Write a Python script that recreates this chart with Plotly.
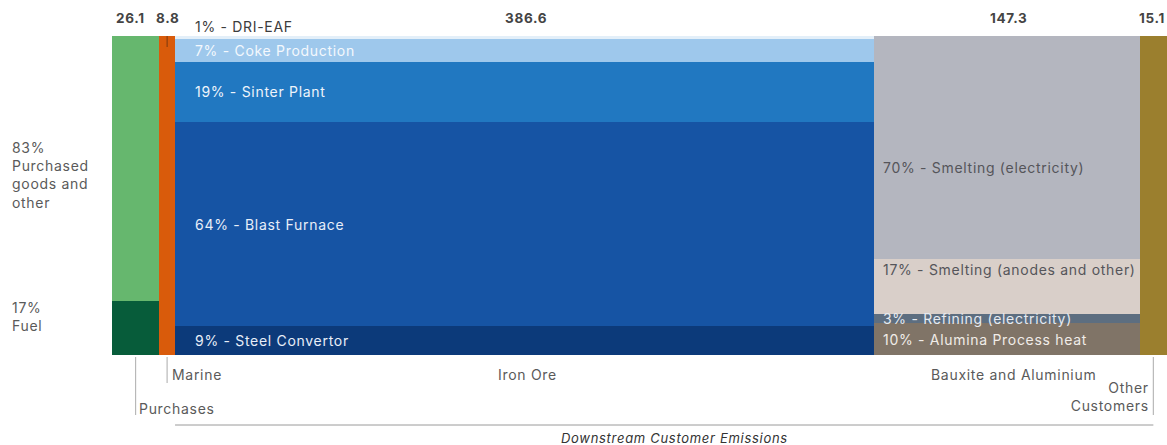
import plotly.graph_objects as go

# ---- data ----
columns = ["Purchases", "Marine", "Iron Ore", "Bauxite and Aluminium", "Other Customers"]
column_totals = [26.1, 8.8, 386.6, 147.3, 15.1]

purchases_segments = ["Fuel", "Purchased goods and other"]
purchases_shares = [17, 83]

marine_segments = ["Marine"]
marine_shares = [100]

iron_segments = ["Steel Convertor", "Blast Furnace", "Sinter Plant", "Coke Production", "DRI-EAF"]
iron_shares = [9, 64, 19, 7, 1]

bauxite_segments = ["Alumina Process heat", "Refining (electricity)", "Smelting (anodes and other)", "Smelting (electricity)"]
bauxite_shares = [10, 3, 17, 70]

other_segments = ["Other Customers"]
other_shares = [100]

# ---- styles ----
colors = {
    "Fuel": "#075c3a", "Purchased goods and other": "#66b76e",
    "Marine": "#d95b0b",
    "Steel Convertor": "#0c3a7a", "Blast Furnace": "#1654a4", "Sinter Plant": "#2178c1",
    "Coke Production": "#9ec8ec", "DRI-EAF": "#e3eff9",
    "Alumina Process heat": "#807467", "Refining (electricity)": "#5d6e80",
    "Smelting (anodes and other)": "#d9cfc9", "Smelting (electricity)": "#b4b6bf",
    "Other Customers": "#9b7f2e",
}
FONT = "Inter, Roboto, 'DejaVu Sans', sans-serif"
GREY = "#5a5a5a"
FS = 14

segments_by_col = [
    (purchases_segments, purchases_shares),
    (marine_segments, marine_shares),
    (iron_segments, iron_shares),
    (bauxite_segments, bauxite_shares),
    (other_segments, other_shares),
]

fig = go.Figure()
lefts = []
acc = 0.0
for t in column_totals:
    lefts.append(acc)
    acc += t
total = acc
centers = [l + w / 2 for l, w in zip(lefts, column_totals)]

for ci, (segs, shares) in enumerate(segments_by_col):
    base = 0
    for s, v in zip(segs, shares):
        fig.add_trace(go.Bar(
            x=[centers[ci]], y=[v], base=[base], width=[column_totals[ci]],
            marker=dict(color=colors[s], line=dict(width=0)),
            name=s, showlegend=False, hoverinfo="skip",
        ))
        base += v

PLOT_TOP, PLOT_H = 36, 319
def py_to_data(py):
    return (PLOT_TOP + PLOT_H - py) / PLOT_H * 100
def py_to_paper(py):
    return (PLOT_TOP + PLOT_H - py) / PLOT_H

ann = []
def add_text(text, x, y, xref="x", yref="y", xanchor="left", color=GREY, size=FS, xshift=0, align="left", italic=False, yanchor="middle"):
    ann.append(dict(text=text, x=x, y=y, xref=xref, yref=yref, xanchor=xanchor, yanchor=yanchor,
                    showarrow=False, align=align, xshift=xshift,
                    font=dict(family=FONT, size=size, color=color, style="italic" if italic else "normal")))

# iron ore labels
iron_label_color = {"Steel Convertor": "#e8eef8", "Blast Furnace": "#e8eef8", "Sinter Plant": "#eef4fb",
                    "Coke Production": "#f4f8fd"}
base = 0
for s, v in zip(iron_segments, iron_shares):
    mid = base + v / 2
    if s == "DRI-EAF":
        add_text(f"{v}% - {s}", lefts[2], py_to_paper(27), yref="paper", xshift=18, color="#3c3c3c")
    else:
        add_text(f"{v}% - {s}", lefts[2], mid, xshift=18, color=iron_label_color[s])
    base += v

# bauxite labels
baux_label_style = {
    "Alumina Process heat": ("#f0ece8", None),
    "Refining (electricity)": ("#e6eaf0", None),
    "Smelting (anodes and other)": ("#55555a", py_to_data(269)),
    "Smelting (electricity)": ("#55555a", py_to_data(167)),
}
base = 0
for s, v in zip(bauxite_segments, bauxite_shares):
    c, yo = baux_label_style[s]
    add_text(f"{v}% - {s}", lefts[3], yo if yo is not None else base + v / 2, xshift=7, color=c)
    base += v

# totals above columns (anchor tweaks so narrow columns don't collide / clip)
total_anchor = [("center", -7), ("center", 0), ("center", 0), ("center", 0), ("right", -3)]
for ci, (c, t) in enumerate(zip(centers, column_totals)):
    xa, xs = total_anchor[ci]
    xpos = total if xa == "right" else c
    add_text(f"<b>{t}</b>", xpos, py_to_paper(18), yref="paper", xanchor=xa, xshift=xs,
             color="#444444", size=13.5)

# left labels for purchases
PLOT_LEFT, PLOT_W = 112, 1055
def px_to_paper(px):
    return (px - PLOT_LEFT) / PLOT_W
add_text(f"{purchases_shares[1]}%<br>Purchased<br>goods and<br>other", px_to_paper(10), py_to_paper(175),
         xref="paper", yref="paper", color=GREY)
add_text(f"{purchases_shares[0]}%<br>Fuel", px_to_paper(10), py_to_paper(316),
         xref="paper", yref="paper", color=GREY)

# bottom category labels
add_text(columns[1], centers[1], py_to_paper(375), yref="paper", xshift=3, color=GREY)
add_text(columns[0], centers[0], py_to_paper(408), yref="paper", xshift=1, color=GREY)
add_text(columns[2], centers[2], py_to_paper(375), yref="paper", xanchor="center", color=GREY)
add_text(columns[3], centers[3], py_to_paper(375), yref="paper", xanchor="center", color=GREY)
add_text("Other<br>Customers", centers[4], py_to_paper(396), yref="paper", xanchor="right", align="right", xshift=-2, color=GREY)
add_text("Downstream Customer Emissions", (lefts[2] + centers[4]) / 2, py_to_paper(438), yref="paper",
         xanchor="center", italic=True, color="#333333", size=13)

shapes = []
LINE = dict(color="#b8b8b8", width=1.2)
shapes.append(dict(type="line", xref="x", yref="paper", x0=centers[0], x1=centers[0],
                   y0=py_to_paper(357), y1=py_to_paper(415), line=LINE))
shapes.append(dict(type="line", xref="x", yref="paper", x0=centers[1], x1=centers[1],
                   y0=py_to_paper(357), y1=py_to_paper(383), line=LINE))
shapes.append(dict(type="line", xref="x", yref="paper", x0=centers[1], x1=centers[1],
                   y0=py_to_paper(36), y1=py_to_paper(47), line=dict(color="#7a3a10", width=1)))
shapes.append(dict(type="line", xref="x", yref="paper", x0=centers[4], x1=centers[4],
                   y0=py_to_paper(357), y1=py_to_paper(415), line=LINE))
shapes.append(dict(type="line", xref="x", yref="paper", x0=lefts[2], x1=centers[4],
                   y0=py_to_paper(425), y1=py_to_paper(425), line=dict(color="#9a9a9a", width=1)))

fig.add_trace(go.Scatter(x=[lefts[2], centers[4]], y=[py_to_data(425)] * 2, mode="markers",
                         marker=dict(color="#333333", size=4), cliponaxis=False,
                         showlegend=False, hoverinfo="skip"))

fig.update_layout(
    width=1167, height=445,
    margin=dict(l=112, r=0, t=36, b=90),
    paper_bgcolor="white", plot_bgcolor="white",
    barmode="overlay", bargap=0,
    xaxis=dict(range=[0, total], visible=False, fixedrange=True),
    yaxis=dict(range=[0, 100], visible=False, fixedrange=True),
    annotations=ann, shapes=shapes,
    showlegend=False,
)

post = ("document.body.style.margin='0';"
        "document.querySelectorAll('.annotation-text').forEach(function(t){t.style.letterSpacing='0.7px';});")
fig.write_html("out.html", post_script=post, config={"displayModeBar": False})
